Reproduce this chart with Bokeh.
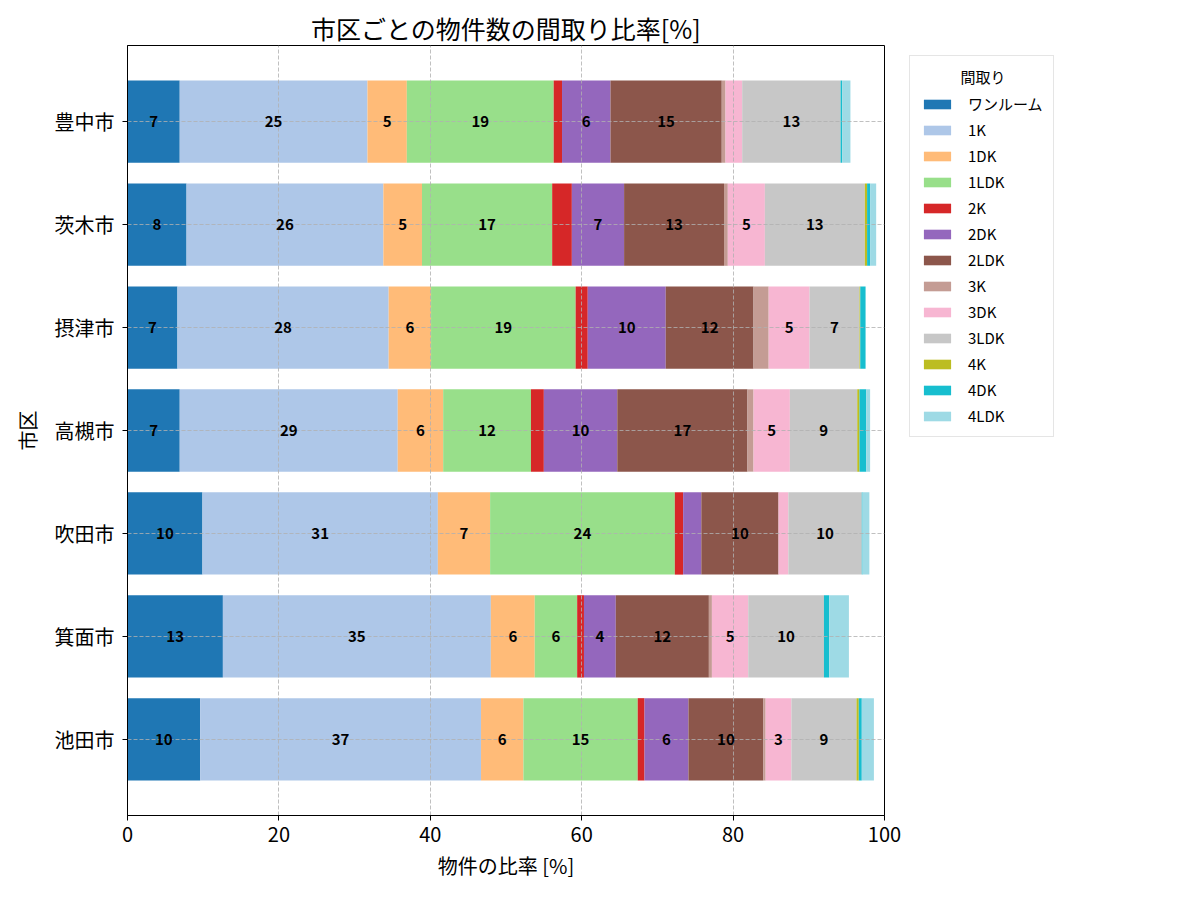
from bokeh.plotting import figure
from bokeh.layouts import row
from bokeh.models import (ColumnDataSource, Range1d, FixedTicker, Legend, LegendItem)
from bokeh.core.properties import value
from bokeh.embed import file_html
from bokeh.resources import INLINE

FONT = "Noto Sans CJK JP"

# cities from top to bottom
cities = ["豊中市", "茨木市", "摂津市", "高槻市", "吹田市", "箕面市", "池田市"]

# floor-plan types, in stacking order
layouts = ["ワンルーム", "1K", "1DK", "1LDK", "2K", "2DK", "2LDK",
           "3K", "3DK", "3LDK", "4K", "4DK", "4LDK"]

colors = ["#1f77b4", "#aec7e8", "#ffbb78", "#98df8a", "#d62728", "#9467bd",
          "#8c564b", "#c49c94", "#f7b6d2", "#c7c7c7", "#bcbd22", "#17becf",
          "#9edae5"]

# share of listings [%] per city, one list per city in layout order
toyonaka = [6.9, 24.8, 5.2, 19.4, 1.1, 6.4, 14.7, 0.5, 2.2, 13.0, 0.0, 0.2, 1.1]
ibaraki = [7.8, 26.0, 5.1, 17.2, 2.6, 6.9, 13.2, 0.5, 4.9, 13.2, 0.3, 0.4, 0.8]
settsu = [6.6, 27.9, 5.6, 19.1, 1.6, 10.3, 11.6, 2.0, 5.4, 6.6, 0.1, 0.7, 0.0]
takatsuki = [6.9, 28.8, 6.0, 11.6, 1.7, 9.7, 17.2, 0.8, 4.8, 8.9, 0.3, 0.9, 0.5]
suita = [9.9, 31.1, 6.9, 24.4, 1.1, 2.4, 10.2, 0.0, 1.3, 9.7, 0.0, 0.1, 0.9]
minoh = [12.6, 35.4, 5.8, 5.6, 0.9, 4.2, 12.3, 0.4, 4.8, 10.0, 0.0, 0.7, 2.6]
ikeda = [9.6, 37.1, 5.6, 15.1, 0.9, 5.8, 9.9, 0.3, 3.4, 8.6, 0.3, 0.4, 1.6]

shares = [toyonaka, ibaraki, settsu, takatsuki, suita, minoh, ikeda]

x_ticks = [0, 20, 40, 60, 80, 100]

# first city at the top
ypos = [len(cities) - 1 - i for i in range(len(cities))]

data = {"y": ypos}
for j, lay in enumerate(layouts):
    data[lay] = [r[j] for r in shares]
source = ColumnDataSource(data)

p = figure(width=904, height=900, output_backend="svg", toolbar_location=None,
           x_range=Range1d(0, 100), y_range=Range1d(-0.74, len(cities) - 1 + 0.74),
           min_border_left=127, min_border_right=20,
           min_border_top=45, min_border_bottom=85,
           background_fill_color="white", border_fill_color="white",
           outline_line_color="black", outline_line_width=1)

renderers = p.hbar_stack(layouts, y="y", height=0.8, color=colors,
                         line_color=None, source=source)
for r in renderers:
    r.level = "image"

# value labels centred in each segment of 3% or more
lx, ly, lt = [], [], []
for vals, yv in zip(shares, ypos):
    left = 0.0
    for v in vals:
        if v >= 3:
            lx.append(left + v / 2)
            ly.append(yv)
            lt.append(str(int(round(v))))
        left += v
p.text(x=lx, y=ly, text=lt, text_font=value(FONT), text_font_style="bold",
       text_font_size="15px", text_align="center", text_baseline="middle",
       text_color="black")

# title
p.title.text = "市区ごとの物件数の間取り比率[%]"
p.title.align = "center"
p.title.text_font = FONT
p.title.text_font_size = "25px"
p.title.text_font_style = "normal"
p.title.text_color = "black"
p.title.standoff = 0

# axes
p.xaxis.ticker = FixedTicker(ticks=x_ticks)
p.yaxis.ticker = FixedTicker(ticks=ypos)
p.yaxis.major_label_overrides = {yv: c for yv, c in zip(ypos, cities)}
p.xaxis.axis_label = "物件の比率 [%]"
p.yaxis.axis_label = "市区"
for ax in (p.xaxis, p.yaxis):
    ax.axis_label_text_font = FONT
    ax.axis_label_text_font_size = "20px"
    ax.axis_label_text_font_style = "normal"
    ax.axis_label_text_color = "black"
    ax.major_label_text_font = FONT
    ax.major_label_text_font_size = "20px"
    ax.major_label_text_color = "black"
    ax.axis_line_color = "black"
    ax.major_tick_line_color = "black"
    ax.major_tick_out = 5
    ax.major_tick_in = 0
    ax.minor_tick_line_color = None
    ax.major_label_standoff = 6
    ax.axis_label_standoff = 6
p.yaxis.major_label_standoff = 8
p.yaxis.axis_label_standoff = 10

# dashed grid over the bars
for g in (p.xgrid, p.ygrid):
    g.grid_line_color = "#b0b0b0"
    g.grid_line_dash = "4 2"
    g.grid_line_alpha = 0.8
    g.grid_line_width = 1

# side panel holding the legend
lp = figure(width=296, height=900, output_backend="svg", toolbar_location=None,
            x_range=Range1d(0, 1), y_range=Range1d(0, 1),
            x_axis_type=None, y_axis_type=None,
            min_border_left=0, min_border_right=0,
            min_border_top=0, min_border_bottom=0,
            outline_line_color=None,
            background_fill_color="white", border_fill_color="white")
lp.xgrid.visible = False
lp.ygrid.visible = False

# swatch renderers sit well outside the panel's range; only their legend glyphs show
swatches = [lp.hbar(y=[-5], left=[5], right=[6], height=0.8, color=c,
                    line_color=None)
            for c in colors]
items = [LegendItem(label=lay, renderers=[r]) for lay, r in zip(layouts, swatches)]
# heading indented with wide spaces so it sits centred over the entries
legend = Legend(items=items, location=(5, 378),
                title="\u3000\u3000\u2002\u2009間取り",
                title_text_font=FONT, title_text_font_size="15px",
                title_text_font_style="normal", title_text_color="black",
                label_text_font=FONT, label_text_font_size="15px",
                label_text_color="black",
                glyph_width=34, glyph_height=12, label_height=16,
                label_standoff=14, spacing=5, padding=10, margin=0,
                title_standoff=6,
                border_line_color="#cccccc", border_line_width=1,
                background_fill_color="white", background_fill_alpha=0.8)
lp.add_layout(legend)

open("out.html", "w").write(file_html(row(p, lp), INLINE))
